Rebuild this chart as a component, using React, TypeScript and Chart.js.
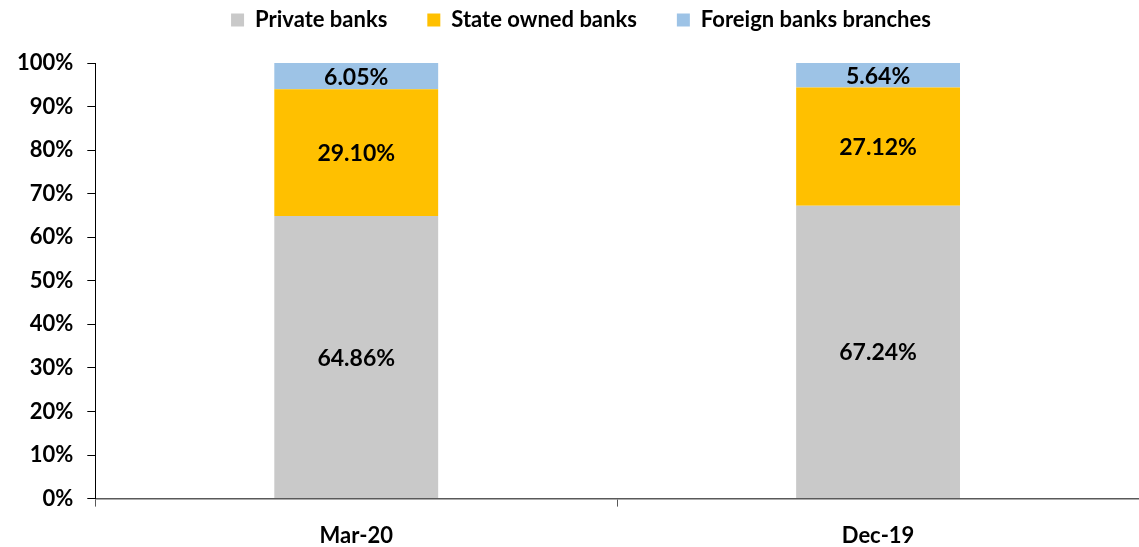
import React, { useEffect, useRef } from "react";
import { Chart, registerables } from "chart.js";

Chart.register(...registerables);

const categories = ["Mar-20", "Dec-19"];
const privateBanks = [64.86, 67.24];
const stateOwnedBanks = [29.1, 27.12];
const foreignBranches = [6.05, 5.64];
const seriesNames = ["Private banks", "State owned banks", "Foreign banks branches"];
const seriesColors = ["#C9C9C9", "#FFC000", "#9DC3E6"];

const FONT = "Lato, 'Open Sans', sans-serif";
const LAYOUT_TOP = -31;
const PLOT_TOP = 63;

const labelPlugin = {
  id: "barLabels",
  afterInit(chart: any) {
    const legend = chart.legend;
    if (legend) {
      const origFit = legend.fit.bind(legend);
      legend.fit = function () {
        origFit();
        this.height = PLOT_TOP - LAYOUT_TOP;
      };
      const origDraw = legend.draw.bind(legend);
      legend.draw = function () {
        const c = chart.ctx;
        c.save();
        c.translate(10, 0);
        origDraw();
        c.restore();
      };
    }
  },
  afterDatasetsDraw(chart: any) {
    const ctx = chart.ctx;
    ctx.save();
    ctx.font = `bold 23px ${FONT}`;
    ctx.fillStyle = "#000";
    ctx.textAlign = "center";
    ctx.textBaseline = "middle";
    chart.data.datasets.forEach((ds: any, i: number) => {
      const meta = chart.getDatasetMeta(i);
      meta.data.forEach((el: any, j: number) => {
        const v = ds.data[j] as number;
        const y = (el.y + el.base) / 2;
        ctx.fillText(v.toFixed(2) + "%", el.x, y + 1);
      });
    });
    ctx.restore();
  },
};

export default function App() {
  const ref = useRef<HTMLCanvasElement | null>(null);
  useEffect(() => {
    if (!ref.current) return;
    const data = [privateBanks, stateOwnedBanks, foreignBranches];
    const chart = new Chart(ref.current, {
      type: "bar",
      data: {
        labels: categories,
        datasets: data.map((d, i) => ({
          label: seriesNames[i],
          data: d,
          backgroundColor: seriesColors[i],
          borderWidth: 0,
          barPercentage: 0.314,
          categoryPercentage: 1,
        })),
      },
      options: {
        responsive: false,
        animation: false,
        devicePixelRatio: 1,
        layout: { padding: { left: 3, right: 0, top: LAYOUT_TOP, bottom: -18 } },
        plugins: {
          tooltip: { enabled: false },
          legend: {
            position: "top",
            labels: {
              font: { family: FONT, size: 22, weight: "bold" },
              color: "#000",
              boxWidth: 13,
              boxHeight: 13,
              padding: 40,
            },
          },
        },
        scales: {
          x: {
            stacked: true,
            offset: true,
            grid: {
              offset: true,
              drawOnChartArea: false,
              drawTicks: true,
              tickLength: 8,
              color: "#595959",
            },
            border: { display: true, color: "#595959", width: 1.5 },
            ticks: {
              font: { family: FONT, size: 22, weight: "bold" },
              color: "#000",
              padding: 16,
            },
          },
          y: {
            stacked: true,
            min: 0,
            max: 100,
            ticks: {
              stepSize: 10,
              font: { family: FONT, size: 22, weight: "bold" },
              color: "#000",
              padding: 14,
              callback: (v: any) => v + "%",
            },
            grid: {
              drawOnChartArea: false,
              drawTicks: true,
              tickLength: 8,
              color: "#000",
            },
            border: { display: true, color: "#000", width: 1 },
          },
        },
      },
      plugins: [labelPlugin],
    });
    return () => chart.destroy();
  }, []);
  return (
    <div style={{ position: "absolute", left: 0, top: 0, width: 1139, height: 547, background: "#fff" }}>
      <canvas ref={ref} width={1139} height={547} />
    </div>
  );
}
